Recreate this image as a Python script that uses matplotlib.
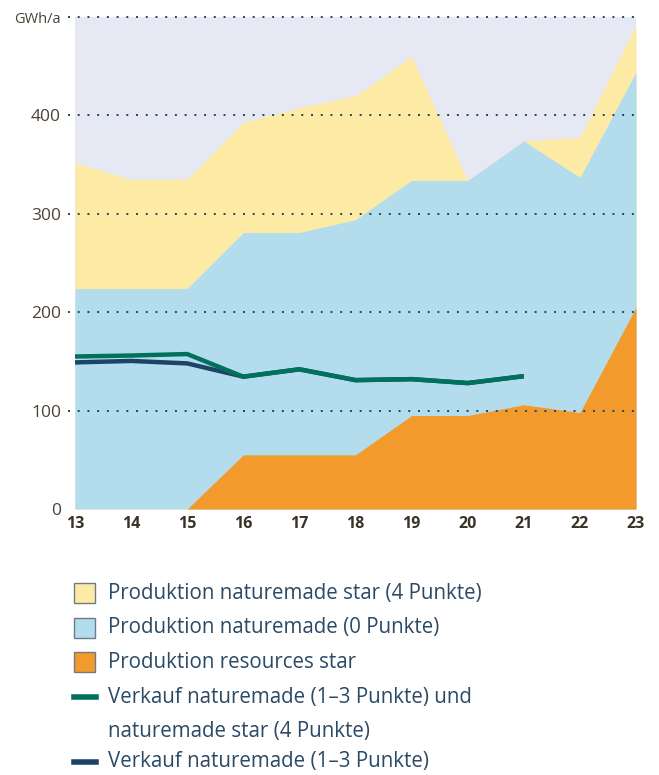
import matplotlib.pyplot as plt
from matplotlib.patches import Rectangle
from matplotlib.lines import Line2D

# Jahre (20xx)
years = [13, 14, 15, 16, 17, 18, 19, 20, 21, 22, 23]

# Obergrenzen der Flächen (GWh/a)
total_star = [352, 335, 335, 393, 408, 420, 460, 334, 374, 378, 492]
total_nm = [224, 224, 224, 281, 281, 294, 334, 334, 374, 337, 444]
resources_star = [0, 0, 0, 55, 55, 55, 95, 95, 106, 98, 205]

# Verkauf
line_years = [13, 14, 15, 16, 17, 18, 19, 20, 21]
verkauf_total = [155, 156, 157.5, 134.5, 142, 131, 132, 128, 135]
verkauf_nm = [149, 150.5, 148, 134.5, 142, 131, 132, 128, 135]

yticks = [0, 100, 200, 300, 400, 500]
ylabels = ['0', '100', '200', '300', '400', 'GWh/a']

c_bg = '#e6e9f3'
c_star = '#fdeba5'
c_nm = '#b3dcec'
c_res = '#f39a2d'
c_green = '#00715a'
c_dark = '#1c4466'
c_text = '#2b4a66'

plt.rcParams['font.family'] = ['Open Sans', 'DejaVu Sans']

fig = plt.figure(figsize=(6.59, 7.75), dpi=100)
ax = fig.add_axes([0.1138, 0.3432, 0.8513, 0.6348])

ax.fill_between([13, 23], 0, 500, color=c_bg, lw=0)
ax.fill_between(years, 0, total_star, color=c_star, lw=0)
ax.fill_between(years, 0, total_nm, color=c_nm, lw=0)
ax.fill_between(years, 0, resources_star, color=c_res, lw=0)

ax.plot(line_years, verkauf_nm, color=c_dark, lw=3.2, solid_capstyle='butt')
ax.plot(line_years, verkauf_total, color=c_green, lw=3.2, solid_capstyle='butt')

for y in yticks[1:]:
    ax.hlines(y, 12.88, 23, colors=c_dark, linestyles=(0, (1, 4)), lw=1.4,
              clip_on=False, zorder=5)

ax.set_xlim(13, 23)
ax.set_ylim(0, 500)
for s in ax.spines.values():
    s.set_visible(False)
ax.set_xticks(years)
ax.set_xticklabels([str(y) for y in years], fontweight='bold', fontsize=11.5,
                   color='#3b3226')
ax.set_yticks(yticks)
ax.set_yticklabels(ylabels, fontsize=12.5, color='#4a4238')
ax.tick_params(length=0)
ax.tick_params(axis='x', pad=5)
ax.tick_params(axis='y', pad=10)
ax.get_yticklabels()[-1].set_fontsize(10.5)

# Legende
fs = 14.8
rows = [(593, 'patch', c_star, 'Produktion naturemade star (4 Punkte)'),
        (628, 'patch', c_nm, 'Produktion naturemade (0 Punkte)'),
        (662, 'patch', c_res, 'Produktion resources star'),
        (697, 'line', c_green, 'Verkauf naturemade (1–3 Punkte) und'),
        (731, None, None, 'naturemade star (4 Punkte)'),
        (762, 'line', c_dark, 'Verkauf naturemade (1–3 Punkte)')]
W, H = 659, 775
for py, kind, col, label in rows:
    yf = 1 - py / H
    if kind == 'patch':
        fig.patches.append(Rectangle((74 / W, yf - 10 / H), 21 / W, 20 / H,
                                     transform=fig.transFigure,
                                     facecolor=col, edgecolor='#6e7b86', lw=1))
    elif kind == 'line':
        fig.lines.append(Line2D([74 / W, 96 / W], [yf, yf],
                                transform=fig.transFigure,
                                color=col, lw=4))
    fig.text(108 / W, yf, label, fontsize=fs, color=c_text, va='center')

fig.savefig('out.png', dpi=100)
